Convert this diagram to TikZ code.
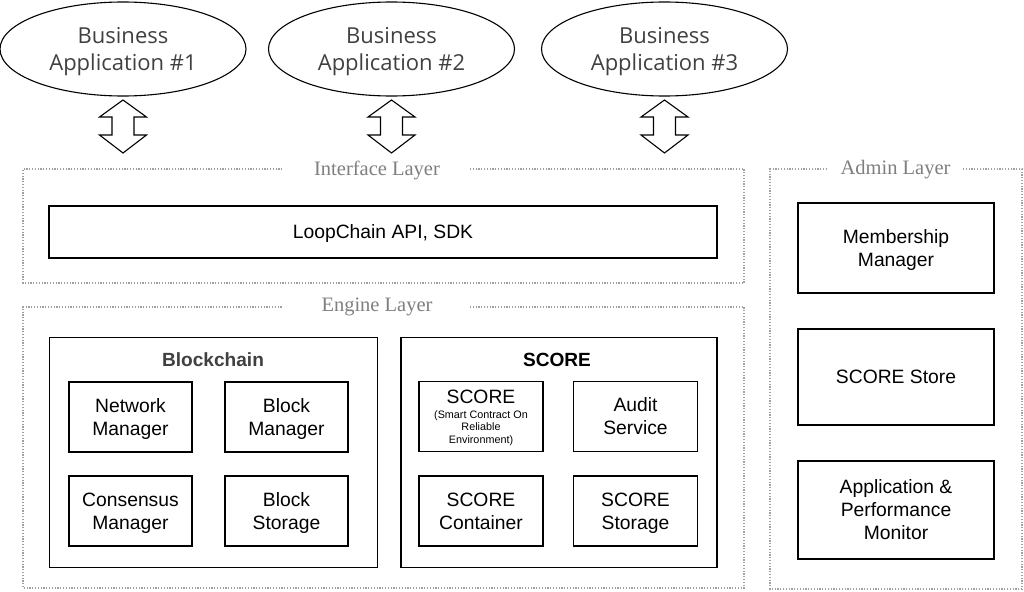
\documentclass[tikz,border=0pt]{standalone}
\usepackage{fontspec}
\setmainfont{Liberation Sans}
\newfontfamily\appfont{Open Sans}
\newfontfamily\layerfont{Liberation Serif}
\newcommand\fstr{\rule{0pt}{15pt}}
\newcommand\lstr{\rule[-6pt]{0pt}{6pt}}
\definecolor{apptext}{HTML}{404040}
\definecolor{dotgray}{HTML}{A0A0A0}
\definecolor{labgray}{HTML}{7F7F7F}
\tikzset{
  app/.style={draw, line width=1.1pt, ellipse, minimum width=246pt, minimum height=94pt, inner sep=0pt,
    align=center, text=apptext, font=\appfont\fontsize{22}{27}\selectfont},
  layer/.style={draw=dotgray, line width=1.5pt, dash pattern=on 1.2pt off 1.6pt},
  layerlabel/.style={fill=white, text=labgray, inner xsep=0pt, inner ysep=2pt, font=\layerfont\fontsize{20.5}{22}\selectfont},
  box/.style={draw, line width=1.6pt, inner sep=0pt, align=center, font=\fontsize{19.3}{23}\selectfont,
    execute at begin node={\rule{0pt}{20.1pt}}, execute at end node={\rule[-6.9pt]{0pt}{6.9pt}}},
  frame/.style={draw, line width=1.6pt, inner sep=0pt},
  boxtext/.style={inner sep=0pt, align=center, font=\fontsize{19.3}{23}\selectfont, yshift=-2pt},
  group/.style={draw, line width=1.6pt, inner sep=0pt},
  title/.style={font=\bfseries\fontsize{19.1}{22}\selectfont},
  dblarrow/.style={draw, line width=1.1pt, fill=white, line join=miter}
}
\usetikzlibrary{shapes.geometric}
\begin{document}
\begin{tikzpicture}[x=1pt,y=-1pt]
\useasboundingbox (0,0) rectangle (1024,591);
% business applications
\node[app] (ba1) at (123,49) {};
\node[app, draw=none, minimum height=0pt] (ba1t) at (123,52) {Business\\Application \#1};
\node[app] (ba2) at (391.5,49) {};
\node[app, draw=none, minimum height=0pt] (ba2t) at (391.5,52) {Business\\Application \#2};
\node[app] (ba3) at (664.5,49) {};
\node[app, draw=none, minimum height=0pt] (ba3t) at (664.5,52) {Business\\Application \#3};
% double arrows
\foreach \cx in {123,391.5,664.5}{
  \draw[dblarrow] (\cx,100) -- ++(23.5,17) -- ++(-12.5,0) -- ++(0,18) -- ++(12.5,0) -- (\cx,153)
    -- ++(-23.5,-18) -- ++(12.5,0) -- ++(0,-18) -- ++(-12.5,0) -- cycle;
}
% layers
\draw[layer] (470,169) -- (744,169) -- (744,283) -- (23,283) -- (23,169) -- (283,169);
\node[layerlabel] (il) at (377,170) {Interface Layer};
\draw[layer] (470,307) -- (744,307) -- (744,588) -- (23,588) -- (23,307) -- (283,307);
\node[layerlabel] (el) at (377,307) {Engine Layer};
\draw[layer] (963,169) -- (1022,169) -- (1022,589) -- (770,589) -- (770,169) -- (828,169);
\node[layerlabel] (al) at (895.5,170) {Admin Layer};
% interface
\node[box, minimum width=668pt, minimum height=52pt] (api) at (383,232) {LoopChain API, SDK};
% blockchain
\node[group, minimum width=328pt, minimum height=230pt] (bc) at (213.5,452.5) {};
\node[title, text=apptext] (bct) at (213,360) {Blockchain};
\node[frame, minimum width=123pt, minimum height=70pt, label={[boxtext]center:{\fstr Network\\Manager\lstr}}] (nm) at (130.5,417) {};
\node[frame, minimum width=123pt, minimum height=70pt, label={[boxtext]center:{\fstr Block\\Manager\lstr}}] (bm) at (286.5,417) {};
\node[frame, minimum width=123pt, minimum height=70pt, label={[boxtext]center:{\fstr Consensus\\Manager\lstr}}] (cm) at (130.5,511) {};
\node[frame, minimum width=123pt, minimum height=70pt, label={[boxtext]center:{\fstr Block\\Storage\lstr}}] (bs) at (286.5,511) {};
% score
\node[group, minimum width=316pt, minimum height=230pt] (sc) at (559,452.5) {};
\node[title] (sct) at (557,360) {SCORE};
\node[frame, minimum width=124pt, minimum height=70pt] (scr) at (481,416.5) {};
\node[font=\fontsize{19.3}{20}\selectfont] (scrt) at (481,397) {SCORE};
\node[align=center, font=\fontsize{10.8}{12.5}\selectfont] (scrs) at (481,428) {(Smart Contract On\\Reliable\\Environment)};
\node[frame, minimum width=124pt, minimum height=70pt, label={[boxtext]center:{\fstr Audit\\Service\lstr}}] (as) at (635.5,416.5) {};
\node[frame, minimum width=124pt, minimum height=70pt, label={[boxtext]center:{\fstr SCORE\\Container\lstr}}] (scc) at (481,511) {};
\node[frame, minimum width=124pt, minimum height=70pt, label={[boxtext]center:{\fstr SCORE\\Storage\lstr}}] (scs) at (635.5,511) {};
% admin
\node[frame, minimum width=196pt, minimum height=90pt, label={[boxtext]center:{\fstr Membership\\Manager\lstr}}] (mm) at (896,248) {};
\node[box, minimum width=196pt, minimum height=96pt] (ss) at (896,377) {SCORE Store};
\node[frame, minimum width=196pt, minimum height=98pt, label={[boxtext]center:{\fstr Application \&\\Performance\\Monitor\lstr}}] (apm) at (896,510) {};
\end{tikzpicture}
\end{document}
